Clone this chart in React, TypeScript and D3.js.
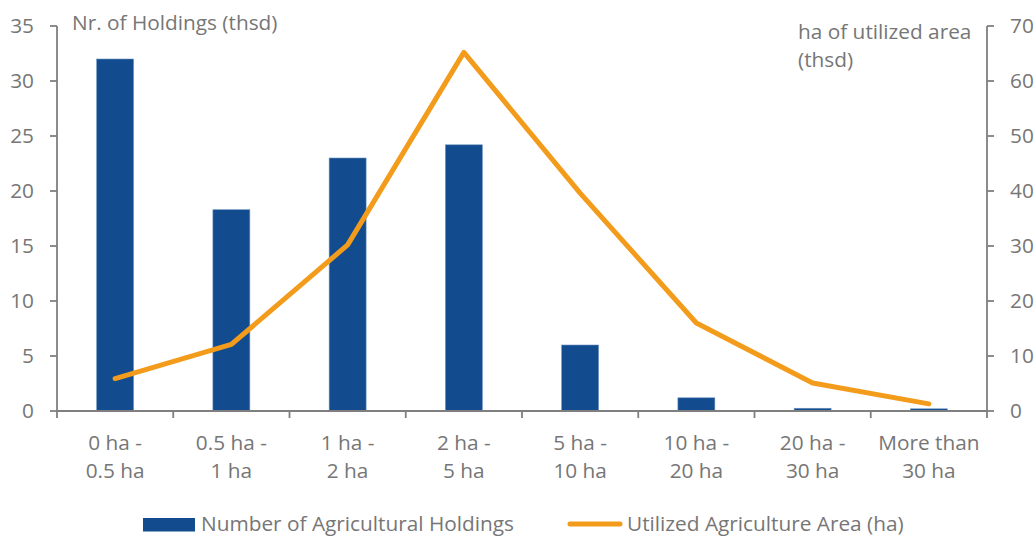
import React from "react";
import * as d3 from "d3";

const categories: string[][] = [
  ["0 ha -", "0.5 ha"],
  ["0.5 ha -", "1 ha"],
  ["1 ha -", "2 ha"],
  ["2 ha -", "5 ha"],
  ["5 ha -", "10 ha"],
  ["10 ha -", "20 ha"],
  ["20 ha -", "30 ha"],
  ["More than", "30 ha"],
];
const holdings: number[] = [32, 18.3, 23, 24.2, 6, 1.2, 0.25, 0.2];
const area: number[] = [5.9, 12.1, 30.2, 65.2, 39.6, 16.0, 5.1, 1.3];
const leftTicks: number[] = [0, 5, 10, 15, 20, 25, 30, 35];
const rightTicks: number[] = [0, 10, 20, 30, 40, 50, 60, 70];
const seriesNames: string[] = ["Number of Agricultural Holdings", "Utilized Agriculture Area (ha)"];

const W = 1036;
const H = 538;
const left = 57;
const right = 987;
const top = 26;
const bottom = 411;
const BLUE = "#124c8f";
const ORANGE = "#f39c1c";
const GRAY = "#7f7f7f";
const TEXT = "#767676";
const FONT = "'Open Sans', Lato, sans-serif";
const FS = 20.8;

export default function App() {
  const ids = categories.map((_, i) => String(i));
  const xBand = d3.scaleBand<string>().domain(ids).range([left, right]).paddingInner(0).paddingOuter(0);
  const bw = xBand.bandwidth();
  const barW = bw * 0.318;
  const yL = d3.scaleLinear().domain([0, 35]).range([bottom, top]);
  const yR = d3.scaleLinear().domain([0, 70]).range([bottom, top]);
  const cx = (i: number) => (xBand(String(i)) as number) + bw / 2;
  const line = d3
    .line<number>()
    .x((_, i) => cx(i))
    .y((d) => yR(d));
  const boundaries = d3.range(categories.length + 1).map((i) => left + i * bw);

  return (
    <svg width={W} height={H} style={{ position: "absolute", left: 0, top: 0, background: "#fff" }} fontFamily={FONT}>
      {/* bars */}
      {holdings.map((v, i) => (
        <rect
          key={i}
          x={cx(i) - barW / 2}
          y={yL(v)}
          width={barW}
          height={bottom - yL(v)}
          fill={BLUE}
          stroke="#6f95c4"
          strokeWidth={0.6}
        />
      ))}
      {/* x axis */}
      <line x1={left} x2={right} y1={bottom} y2={bottom} stroke={GRAY} strokeWidth={1.8} />
      {boundaries.map((b, i) => (
        <line key={i} x1={b} x2={b} y1={bottom} y2={bottom + 7} stroke={GRAY} strokeWidth={1.8} />
      ))}
      {categories.map((c, i) => (
        <text key={i} x={cx(i)} textAnchor="middle" fill={TEXT} fontSize={FS}>
          <tspan x={cx(i)} y={450}>{c[0]}</tspan>
          <tspan x={cx(i)} y={478}>{c[1]}</tspan>
        </text>
      ))}
      {/* left axis */}
      <line x1={left} x2={left} y1={top} y2={bottom} stroke={GRAY} strokeWidth={1.8} />
      {leftTicks.map((t) => (
        <g key={t}>
          <line x1={left - 7} x2={left} y1={yL(t)} y2={yL(t)} stroke={GRAY} strokeWidth={1.8} />
          <text x={34} y={yL(t)} dy="0.35em" textAnchor="end" fill={TEXT} fontSize={FS}>
            {t}
          </text>
        </g>
      ))}
      {/* right axis */}
      <line x1={right} x2={right} y1={top} y2={bottom} stroke={GRAY} strokeWidth={1.8} />
      {rightTicks.map((t) => (
        <g key={t}>
          <line x1={right} x2={right + 7} y1={yR(t)} y2={yR(t)} stroke={GRAY} strokeWidth={1.8} />
          <text x={1010} y={yR(t)} dy="0.35em" textAnchor="start" fill={TEXT} fontSize={FS}>
            {t}
          </text>
        </g>
      ))}
      {/* axis titles */}
      <text x={72} y={30} fill={TEXT} fontSize={FS}>Nr. of Holdings (thsd)</text>
      <text x={798} y={39} fill={TEXT} fontSize={FS}>ha of utilized area</text>
      <text x={798} y={67} fill={TEXT} fontSize={FS}>(thsd)</text>
      {/* line */}
      <path d={line(area) || ""} fill="none" stroke={ORANGE} strokeWidth={5} strokeLinejoin="round" strokeLinecap="round" />
      {/* legend */}
      <rect x={143} y={518} width={52} height={13.5} fill={BLUE} />
      <text x={201} y={524} dy="0.35em" fill={TEXT} fontSize={FS}>{seriesNames[0]}</text>
      <line x1={570} x2={620} y1={524} y2={524} stroke={ORANGE} strokeWidth={5} strokeLinecap="round" />
      <text x={627} y={524} dy="0.35em" fill={TEXT} fontSize={FS}>{seriesNames[1]}</text>
    </svg>
  );
}
